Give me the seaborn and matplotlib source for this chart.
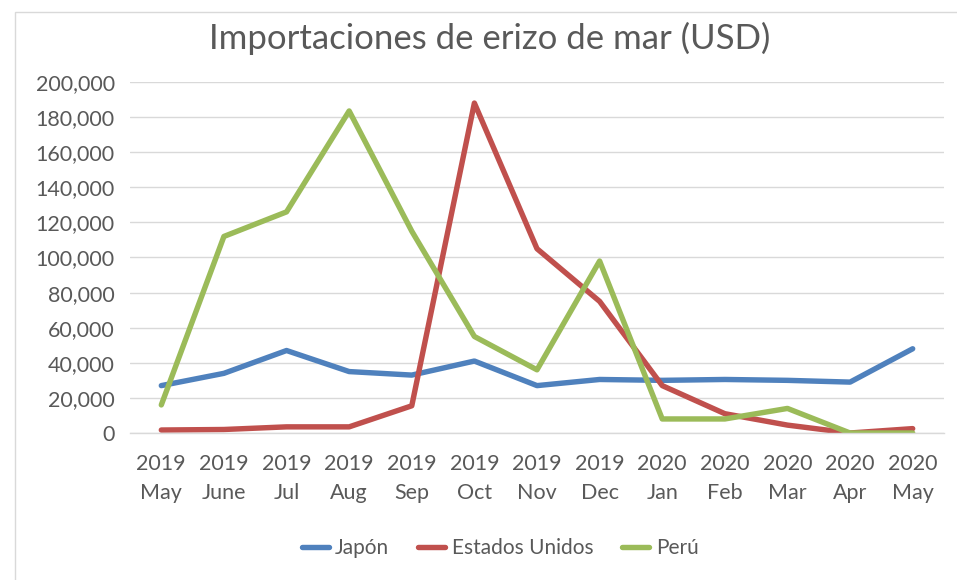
import matplotlib
matplotlib.use("Agg")
import matplotlib.pyplot as plt
import matplotlib.ticker as mticker
from matplotlib.patches import Rectangle
import seaborn as sns
import pandas as pd

months = ["2019\nMay", "2019\nJune", "2019\nJul", "2019\nAug", "2019\nSep", "2019\nOct",
          "2019\nNov", "2019\nDec", "2020\nJan", "2020\nFeb", "2020\nMar", "2020\nApr", "2020\nMay"]
japon = [27000, 34000, 47000, 35000, 33000, 41000, 27000, 30500, 30000, 30500, 30000, 29000, 48000]
eeuu = [1700, 2000, 3500, 3500, 15500, 188000, 105000, 75000, 27000, 11000, 4500, 0, 2500]
peru = [16000, 112000, 126000, 183500, 115000, 55000, 36000, 98000, 8000, 8000, 14000, 0, 0]
series_names = ["Japón", "Estados Unidos", "Perú"]
colors = ["#4F81BD", "#C0504D", "#9BBB59"]

rows = []
for name, vals in zip(series_names, [japon, eeuu, peru]):
    for i, v in enumerate(vals):
        rows.append({"idx": i, "valor": v, "serie": name})
df = pd.DataFrame(rows)

sns.set_theme(style="white")
plt.rcParams["font.family"] = ["Lato", "DejaVu Sans"]

fig = plt.figure(figsize=(9.57, 5.8), dpi=100)
ax = fig.add_axes([130 / 957, 1 - 433 / 580, (944 - 130) / 957, (433 - 82) / 580])

fig.patches.append(Rectangle((15 / 957, -0.01), 1.0, 1 - 12 / 580 + 0.01,
                             transform=fig.transFigure, fill=False,
                             edgecolor="#d9d9d9", linewidth=1.0))

sns.lineplot(data=df, x="idx", y="valor", hue="serie", palette=colors,
             hue_order=series_names, linewidth=3.9, sort=False, ax=ax, legend=True)

ax.set_xlim(-0.5, len(months) - 0.5)
ax.set_ylim(0, 200000)
ax.set_yticks(range(0, 200001, 20000))
ax.yaxis.set_major_formatter(mticker.FuncFormatter(lambda v, p: f"{int(v):,}"))
ax.set_xticks(range(len(months)))
ax.set_xticklabels(months, linespacing=1.55)
ax.tick_params(axis="both", length=0, labelsize=15.5, labelcolor="#595959")
ax.tick_params(axis="y", pad=11)
ax.tick_params(axis="x", pad=15)
ax.grid(axis="y", color="#d9d9d9", linewidth=1.0)
ax.set_axisbelow(True)
for s in ["top", "right", "left"]:
    ax.spines[s].set_visible(False)
ax.spines["bottom"].set_color("#d9d9d9")
ax.spines["bottom"].set_linewidth(1.0)
ax.set_xlabel("")
ax.set_ylabel("")

fig.text(490 / 957, 1 - 38 / 580, "Importaciones de erizo de mar (USD)", ha="center", va="center",
         fontsize=25, color="#595959")

handles, labels = ax.get_legend_handles_labels()
ax.legend(handles, labels, loc="center", bbox_to_anchor=(500 / 957, 1 - 548 / 580),
          bbox_transform=fig.transFigure, ncol=3, frameon=False, fontsize=15,
          labelcolor="#595959", handlelength=1.3, handletextpad=0.3, columnspacing=1.4)

fig.savefig("out.png", dpi=100)
